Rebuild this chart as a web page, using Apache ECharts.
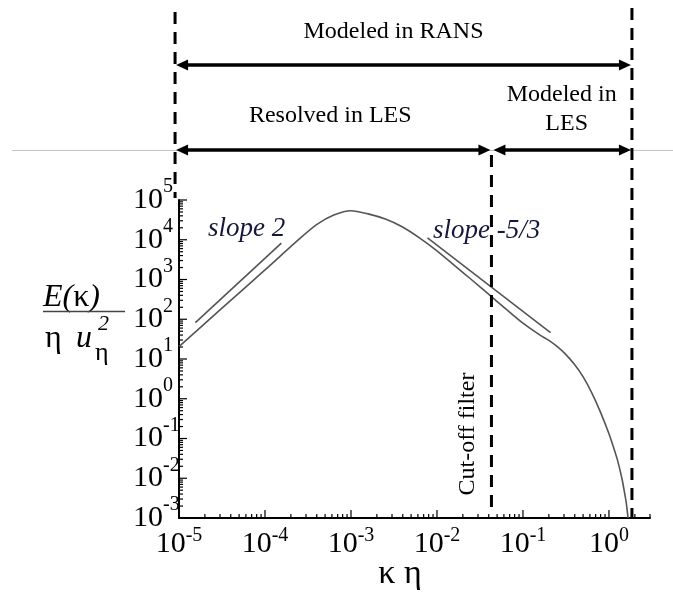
<!DOCTYPE html>
<html>
<head>
<meta charset="utf-8">
<script src="https://cdn.jsdelivr.net/npm/echarts@6/dist/echarts.min.js"></script>
<style>
  html, body { margin: 0; padding: 0; background: #fff; }
  #chart { width: 673px; height: 596px; }
</style>
</head>
<body>
<div id="chart"></div>
<script>
// Model turbulent energy spectrum, normalised E(κ)/(η u_η²) against κη
const kEta = [1e-5, 3.16e-5, 1e-4, 2.51e-4, 3.98e-4, 6.31e-4, 1e-3, 1.58e-3, 2.51e-3,
  3.98e-3, 6.31e-3, 0.01, 0.0158, 0.0251, 0.0398, 0.0631, 0.1, 0.158, 0.2,
  0.251, 0.316, 0.398, 0.501, 0.631, 0.794, 1.0, 1.122, 1.259, 1.413, 1.514, 1.585, 1.667];
const energy = [20.4, 190, 1740, 10500, 24000, 41700, 53700, 44700, 33100,
  20900, 11000, 5250, 2290, 1000, 427, 182, 79.4, 39.8, 29.5,
  20.4, 12.9, 7.24, 3.55, 1.41, 0.468, 0.132, 0.0631, 0.0282, 0.01, 0.00447, 0.00251, 0.001];

// Reference power laws drawn beside the curve
const slopeTwoK = [1.55e-5, 1.55e-4];
const slopeTwoE = [82, 8200];
const slopeKolK = [0.00776, 0.209];
const slopeKolE = [11100, 46];

// κη positions of the scale boundaries: left edge, LES cut-off filter, right edge
const regionEdges = [9e-6, 0.043, 1.85];

// Axis extents and decade ticks
const xMin = 1e-5, xMax = 3, yMin = 1e-3, yMax = 1e5;
const xDecades = [1e-5, 1e-4, 1e-3, 1e-2, 1e-1, 1];
const yDecades = [1e-3, 1e-2, 1e-1, 1, 10, 100, 1e3, 1e4, 1e5];

const serif = '"Liberation Serif", "Times New Roman", serif';

function withMinor(decades, max) {
  const out = [];
  decades.forEach(function (d) {
    out.push([d, 1]);
    for (let m = 2; m <= 9; m++) {
      const v = m * d;
      if (v <= max * 1.0001) out.push([v, 0]);
    }
  });
  return out;
}
const xTicks = withMinor(xDecades, xMax);
const yTicks = withMinor(yDecades, yMax);

function powLabel(v) {
  const p = Math.log10(v);
  const e = Math.round(p);
  if (Math.abs(p - e) > 1e-6) return '';
  return '{b|10}{s|' + e + '}';
}

const chart = echarts.init(document.getElementById('chart'), null, { renderer: 'canvas' });

function arrowHead(x, y, dir) {
  // dir = -1 points left, +1 points right
  const L = 12, H = 5.5;
  return {
    type: 'polygon',
    shape: { points: [[x, y], [x - dir * L, y - H], [x - dir * L, y + H]] },
    style: { fill: '#000' }
  };
}
function doubleArrow(x1, x2, y) {
  return [
    { type: 'line', shape: { x1: x1 + 6, y1: y, x2: x2 - 6, y2: y }, style: { stroke: '#000', lineWidth: 3.5 } },
    arrowHead(x1, y, -1),
    arrowHead(x2, y, 1)
  ];
}
function label(text, x, y, size) {
  return {
    type: 'text', x: x, y: y,
    style: {
      text: text, fill: '#000', font: size + 'px ' + serif,
      align: 'center', verticalAlign: 'middle'
    }
  };
}

const option = {
  backgroundColor: '#fff',
  animation: false,
  grid: { left: 179, top: 200, width: 471, height: 318, containLabel: false, outerBoundsMode: 'none' },
  xAxis: {
    type: 'log', logBase: 10, min: xMin, max: xMax, splitNumber: 6,
    axisLine: { lineStyle: { color: '#000', width: 2 } },
    axisTick: { show: false }, minorTick: { show: false }, splitLine: { show: false },
    axisLabel: {
      margin: 8, verticalAlign: 'top', formatter: powLabel, hideOverlap: false,
      rich: {
        b: { fontSize: 30, fontFamily: serif, color: '#000', lineHeight: 36, verticalAlign: 'middle' },
        s: { fontSize: 20, fontFamily: serif, color: '#000', lineHeight: 20, verticalAlign: 'top' }
      }
    }
  },
  yAxis: {
    type: 'log', logBase: 10, min: yMin, max: yMax, splitNumber: 8,
    axisLine: { lineStyle: { color: '#000', width: 2 } },
    axisTick: { show: false }, minorTick: { show: false }, splitLine: { show: false },
    axisLabel: {
      margin: 46, align: 'left', formatter: powLabel, hideOverlap: false,
      showMinLabel: true, showMaxLabel: true,
      rich: {
        b: { fontSize: 30, fontFamily: serif, color: '#000', lineHeight: 46, verticalAlign: 'middle' },
        s: { fontSize: 20, fontFamily: serif, color: '#000', lineHeight: 20, verticalAlign: 'top' }
      }
    }
  },
  series: [
    {
      type: 'line', name: 'spectrum',
      data: kEta.map(function (k, i) { return [k, energy[i]]; }),
      showSymbol: false, smooth: 0.25,
      lineStyle: { color: '#555', width: 1.6 }, z: 3
    },
    {
      type: 'line', name: 'slope 2',
      data: slopeTwoK.map(function (k, i) { return [k, slopeTwoE[i]]; }),
      showSymbol: false, lineStyle: { color: '#555', width: 1.6 }, z: 3
    },
    {
      type: 'line', name: 'slope -5/3',
      data: slopeKolK.map(function (k, i) { return [k, slopeKolE[i]]; }),
      showSymbol: false, lineStyle: { color: '#555', width: 1.6 }, z: 3
    },
    {
      // bottom axis ticks, drawn inward
      type: 'custom', silent: true, z: 4,
      data: xTicks.map(function (t) { return [t[0], yMin, t[1]]; }),
      renderItem: function (params, api) {
        const p = api.coord([api.value(0), api.value(1)]);
        const len = api.value(2) ? 8 : 4;
        return { type: 'line', shape: { x1: p[0], y1: p[1], x2: p[0], y2: p[1] - len },
          style: { stroke: '#000', lineWidth: 1.2 } };
      }
    },
    {
      // left axis ticks, drawn inward
      type: 'custom', silent: true, z: 4,
      data: yTicks.map(function (t) { return [xMin, t[0], t[1]]; }),
      renderItem: function (params, api) {
        const p = api.coord([api.value(0), api.value(1)]);
        const len = api.value(2) ? 8 : 4;
        return { type: 'line', shape: { x1: p[0], y1: p[1], x2: p[0] + len, y2: p[1] },
          style: { stroke: '#000', lineWidth: 1.2 } };
      }
    },
    {
      // scale boundaries with the RANS / LES ranges above the plot
      type: 'custom', silent: true, clip: false, z: 10,
      data: [[1e-3, 1]],
      renderItem: function (params, api) {
        const xs = regionEdges.map(function (k) { return api.coord([k, yMin])[0]; });
        const xL = xs[0], xC = xs[1], xR = xs[2];
        const dash = { stroke: '#000', lineWidth: 3, lineDash: [12, 8] };
        let kids = [
          { type: 'line', shape: { x1: xL, y1: 12, x2: xL, y2: 198 }, style: dash },
          { type: 'line', shape: { x1: xC, y1: 155, x2: xC, y2: 508 }, style: dash },
          { type: 'line', shape: { x1: xR, y1: 8, x2: xR, y2: 517 }, style: dash }
        ];
        kids = kids.concat(doubleArrow(xL + 1, xR - 1, 65));
        kids = kids.concat(doubleArrow(xL + 1, xC - 1, 150));
        kids = kids.concat(doubleArrow(xC + 2, xR - 1, 150));
        kids.push(label('Modeled in RANS', (xL + xR) / 2 - 10, 32, 24));
        kids.push(label('Resolved in LES', (xL + xC) / 2 - 3, 116, 24));
        kids.push(label('Modeled in', (xC + xR) / 2, 95, 24));
        kids.push(label('LES', (xC + xR) / 2 + 5, 124, 24));
        const cut = label('Cut-off filter', xC - 24, 434, 24);
        cut.rotation = Math.PI / 2;
        kids.push(cut);
        return { type: 'group', children: kids };
      }
    }
  ],
  graphic: [
    { type: 'line', z: 0, shape: { x1: 12, y1: 150.5, x2: 673, y2: 150.5 }, style: { stroke: '#c4c4c4', lineWidth: 1 } },
    // slope annotations
    { type: 'text', x: 208, y: 229, style: { text: 'slope 2', fill: '#14183a', font: 'italic 27px ' + serif, align: 'left', verticalAlign: 'middle' } },
    { type: 'text', x: 433, y: 231, style: { text: 'slope -5/3', fill: '#14183a', font: 'italic 27px ' + serif, align: 'left', verticalAlign: 'middle' } },
    // vertical axis title as a fraction
    { type: 'text', x: 43, y: 298, style: { text: '{i|E(}{r|κ}{i|)}', align: 'left', verticalAlign: 'middle',
        rich: { i: { font: 'italic 32px ' + serif, fill: '#000' }, r: { font: '32px ' + serif, fill: '#000' } } } },
    { type: 'line', shape: { x1: 43, y1: 311.5, x2: 125, y2: 311.5 }, style: { stroke: '#444', lineWidth: 1.6 } },
    { type: 'text', x: 45, y: 339, style: { text: 'η', fill: '#000', font: '32px ' + serif, align: 'left', verticalAlign: 'middle' } },
    { type: 'text', x: 76, y: 339, style: { text: 'u', fill: '#000', font: 'italic 32px ' + serif, align: 'left', verticalAlign: 'middle' } },
    { type: 'text', x: 98, y: 324, style: { text: '2', fill: '#000', font: 'italic 22px ' + serif, align: 'left', verticalAlign: 'middle' } },
    { type: 'text', x: 95, y: 353, style: { text: 'η', fill: '#000', font: '26px ' + serif, align: 'left', verticalAlign: 'middle' } },
    // horizontal axis title
    { type: 'text', x: 400, y: 574, style: { text: 'κ η', fill: '#000', font: '34px ' + serif, align: 'center', verticalAlign: 'middle' } }
  ]
};

chart.setOption(option);
</script>
</body>
</html>
